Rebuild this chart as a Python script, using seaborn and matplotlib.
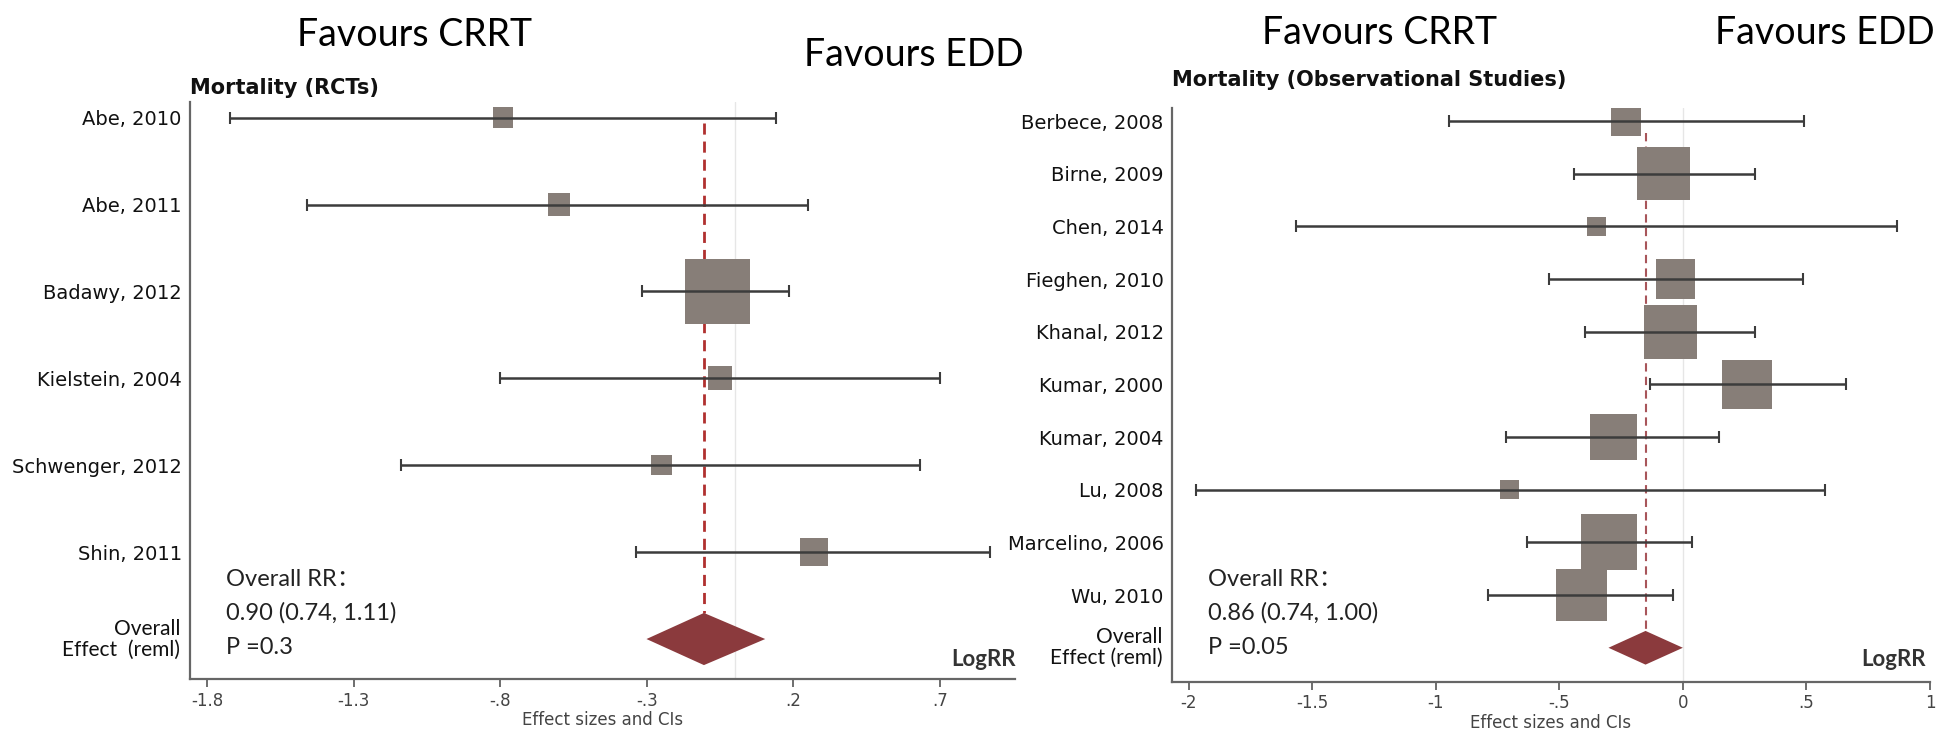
import numpy as np
import pandas as pd
import matplotlib.pyplot as plt
import seaborn as sns

# Mortality (RCTs)
rct_studies = ["Abe, 2010", "Abe, 2011", "Badawy, 2012", "Kielstein, 2004",
               "Schwenger, 2012", "Shin, 2011"]
rct_es = [-0.79, -0.60, -0.06, -0.05, -0.25, 0.27]
rct_lo = [-1.72, -1.46, -0.315, -0.80, -1.14, -0.336]
rct_hi = [0.14, 0.25, 0.186, 0.70, 0.633, 0.872]
rct_weight = [6.0, 7.2, 61.0, 8.2, 6.0, 11.7]
rct_overall = [-0.105, -0.301, 0.104]  # est, lo, hi (log RR)
rct_text = ["Overall RR\uff1a", "0.90 (0.74, 1.11)", "P =0.3"]
rct_ticks = [-1.8, -1.3, -0.8, -0.3, 0.2, 0.7]
rct_ticklabels = ["-1.8", "-1.3", "-.8", "-.3", ".2", ".7"]

# Mortality (Observational Studies)
obs_studies = ["Berbece, 2008", "Birne, 2009", "Chen, 2014", "Fieghen, 2010",
               "Khanal, 2012", "Kumar, 2000", "Kumar, 2004", "Lu, 2008",
               "Marcelino, 2006", "Wu, 2010"]
obs_es = [-0.23, -0.08, -0.35, -0.03, -0.05, 0.26, -0.28, -0.70, -0.30, -0.41]
obs_lo = [-0.947, -0.439, -1.566, -0.543, -0.395, -0.131, -0.715, -1.97, -0.631, -0.787]
obs_hi = [0.492, 0.292, 0.865, 0.485, 0.292, 0.660, 0.146, 0.574, 0.037, -0.041]
obs_weight = [4.6, 14.5, 1.9, 8.2, 15.0, 12.6, 11.1, 1.9, 16.2, 13.9]
obs_overall = [-0.151, -0.301, 0.0]
obs_text = ["Overall RR\uff1a", "0.86 (0.74, 1.00)", "P =0.05"]
obs_ticks = [-2, -1.5, -1, -0.5, 0, 0.5, 1]
obs_ticklabels = ["-2", "-1.5", "-1", "-.5", "0", ".5", "1"]

W, H = 1949, 731
sns.set_theme(style="white")
plt.rcParams['font.family'] = ['DejaVu Sans']
plt.rcParams['axes.unicode_minus'] = False

CAL = ['Lato', 'Noto Sans CJK SC', 'DejaVu Sans']
BOX = '#877e78'
CI = '#3c3c3c'
DIAMOND = '#8b3a3d'

fig = plt.figure(figsize=(W / 100, H / 100), dpi=100)


def fx(x):
    return x / W


def fy(y):
    return 1 - y / H


def panel(rect, studies, es, lo, hi, weight, overall, text, ticks, ticklabels,
          xlim, pads, max_side, dash_col, dash_lw, dash_top, dhalf, title,
          title_y, overall_label, txt_x, logrr_x):
    l, t, r, b = rect
    ax = fig.add_axes([fx(l), fy(b), fx(r - l), (b - t) / H])
    n = len(studies)
    rows = np.arange(n)
    df = pd.DataFrame({'es': es, 'row': rows, 'w': weight})

    ax.axvline(0, color='#e6e6e6', lw=1, zorder=0)
    est, olo, ohi = overall
    ax.vlines(est, dash_top, n - dhalf, colors=dash_col, linestyles=(0, (4, 2.5)),
              lw=dash_lw, zorder=1)

    smax = (max_side * 0.72) ** 2
    sns.scatterplot(data=df, x='es', y='row', size='w', sizes=(0, smax),
                    size_norm=(0, max(weight)), marker='s', color=BOX,
                    linewidth=0, legend=False, ax=ax, zorder=2)
    xerr = [np.array(es) - np.array(lo), np.array(hi) - np.array(es)]
    ax.errorbar(es, rows, xerr=xerr, fmt='none', ecolor=CI, elinewidth=1.8,
                capsize=4, capthick=1.5, zorder=3)

    ax.fill([olo, est, ohi, est], [n, n - dhalf, n, n + dhalf],
            color=DIAMOND, lw=0, zorder=3)

    ax.set_xlim(*xlim)
    ax.set_ylim(n + pads[1], -pads[0])
    ax.set_xticks(ticks, ticklabels)
    ax.set_yticks(rows, studies)
    ax.set_xlabel('Effect sizes and CIs', fontsize=12, color='#444', labelpad=1)
    ax.set_ylabel('')
    ax.tick_params(axis='x', direction='out', length=6, width=1.2, color='#555',
                   labelcolor='#444', labelsize=12, pad=3, bottom=True)
    ax.tick_params(axis='y', length=0, pad=6, labelsize=14, labelcolor='#111')
    for s in ['top', 'right']:
        ax.spines[s].set_visible(False)
    for s in ['left', 'bottom']:
        ax.spines[s].set_color('#666')
        ax.spines[s].set_linewidth(1.6)

    ax.text(-0.012, n, overall_label, transform=ax.get_yaxis_transform(),
            ha='right', va='center', fontsize=15, family=CAL, color='#111',
            linespacing=1.05)
    fig.text(fx(l), fy(title_y), title, ha='left', va='center', fontsize=15,
             fontweight='bold', color='#111')
    for yy, s in zip([580, 613, 647], text):
        fig.text(fx(txt_x), fy(yy), s, ha='left', va='center', fontsize=17,
                 family=CAL, color='#222')
    fig.text(fx(logrr_x), fy(659), 'LogRR', ha='right', va='center',
             fontsize=16, family=CAL, fontweight='bold', color='#333')
    return ax


panel((190, 102, 1015, 679), rct_studies, rct_es, rct_lo, rct_hi, rct_weight,
      rct_overall, rct_text, rct_ticks, rct_ticklabels, (-1.858, 0.956),
      (0.18, 0.46), 65, '#b0302f', 2.0, 0.06, 0.30, 'Mortality (RCTs)', 88,
      'Overall\nEffect  (reml)', 226, 1016)

panel((1172, 108, 1930, 682), obs_studies, obs_es, obs_lo, obs_hi, obs_weight,
      obs_overall, obs_text, obs_ticks, obs_ticklabels, (-2.067, 1.0),
      (0.25, 0.65), 56, '#a8555a', 1.5, 0.23, 0.32,
      'Mortality (Observational Studies)', 80, 'Overall\nEffect (reml)', 1208, 1926)

for x, y, s in [(415, 35, 'Favours CRRT'), (914, 55, 'Favours EDD'),
                (1380, 33, 'Favours CRRT'), (1825, 33, 'Favours EDD')]:
    fig.text(fx(x), fy(y), s, ha='center', va='center', fontsize=27,
             family=CAL, color='#000')

fig.savefig('out.png', dpi=100)
